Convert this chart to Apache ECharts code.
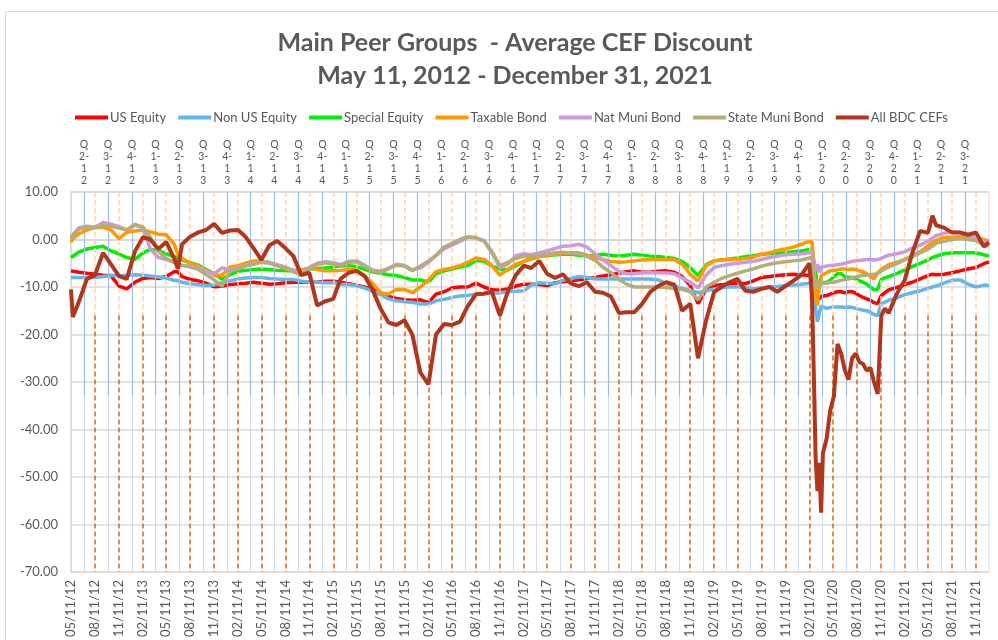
<!DOCTYPE html>
<html>
<head>
<meta charset="utf-8">
<script src="https://cdn.jsdelivr.net/npm/echarts/dist/echarts.min.js"></script>
<style>
  html, body { margin: 0; padding: 0; background: #fff; }
  #main { width: 998px; height: 640px; }
</style>
</head>
<body>
<div id="main"></div>
<script>
// dates of the sampled points (monthly, denser around the 2020 crash)
var dates = [
  '2012-05-11','2012-05-18','2012-06-11','2012-07-11','2012-08-11','2012-09-11','2012-10-11','2012-11-11','2012-12-11',
  '2013-01-11','2013-02-11','2013-03-11','2013-04-11','2013-05-11','2013-06-11','2013-06-25','2013-07-11','2013-08-11','2013-09-11','2013-10-11','2013-11-11','2013-12-11',
  '2014-01-11','2014-02-11','2014-03-11','2014-04-11','2014-05-11','2014-06-11','2014-07-11','2014-08-11','2014-09-11','2014-10-11','2014-11-11','2014-12-11',
  '2015-01-11','2015-02-11','2015-03-11','2015-04-11','2015-05-11','2015-06-11','2015-07-11','2015-08-11','2015-09-11','2015-10-11','2015-11-11','2015-12-11',
  '2016-01-11','2016-02-11','2016-03-11','2016-04-11','2016-05-11','2016-06-11','2016-07-11','2016-08-11','2016-09-11','2016-10-11','2016-11-11','2016-12-11',
  '2017-01-11','2017-02-11','2017-03-11','2017-04-11','2017-05-11','2017-06-11','2017-07-11','2017-08-11','2017-09-11','2017-10-11','2017-11-11','2017-12-11',
  '2018-01-11','2018-02-11','2018-03-11','2018-04-11','2018-05-11','2018-06-11','2018-07-11','2018-08-11','2018-09-11','2018-10-11','2018-11-11','2018-12-11',
  '2019-01-11','2019-02-11','2019-03-11','2019-04-11','2019-05-11','2019-06-11','2019-07-11','2019-08-11','2019-09-11','2019-10-11','2019-11-11','2019-12-11',
  '2020-01-11','2020-02-11','2020-02-21','2020-02-28','2020-03-06','2020-03-13','2020-03-20','2020-03-27','2020-04-03','2020-04-17','2020-05-01','2020-05-15','2020-05-29',
  '2020-06-12','2020-06-26','2020-07-10','2020-07-24','2020-08-07','2020-08-21','2020-09-04','2020-09-18','2020-10-02','2020-10-16','2020-10-30','2020-11-13','2020-11-27','2020-12-11',
  '2021-01-11','2021-02-11','2021-03-11','2021-04-11','2021-05-11','2021-05-28','2021-06-11','2021-07-11','2021-08-11','2021-09-11','2021-10-11','2021-11-11','2021-12-11','2021-12-31'
];

var usEquity = [
  -6.6, -6.7, -6.9, -7.1, -7.3, -7.5, -7.6, -9.8, -10.4,
  -9.0, -8.2, -8.0, -8.2, -7.8, -6.8, -6.8, -7.8, -8.4, -8.7, -9.2, -10.0, -9.8,
  -9.5, -9.3, -9.2, -9.0, -9.2, -9.4, -9.3, -9.1, -9.0, -9.0, -9.0, -9.0,
  -8.8, -8.8, -9.0, -9.3, -9.6, -10.0, -10.4, -11.2, -12.0, -12.4, -12.7, -12.8,
  -12.7, -13.3, -11.5, -11.0, -10.2, -10.0, -10.0, -9.2, -10.0, -10.6, -10.7, -10.4,
  -9.8, -9.4, -9.4, -9.5, -9.7, -9.1, -8.9, -8.7, -8.5, -8.2, -8.0, -7.7,
  -7.4, -7.1, -6.8, -6.6, -6.9, -6.9, -6.7, -6.6, -6.9, -7.8, -9.7, -13.5,
  -10.5, -9.7, -9.5, -9.4, -9.2, -9.3, -8.7, -8.0, -7.8, -7.6, -7.4, -7.3,
  -7.4, -7.6, -7.8, -9.7, -11.0, -12.0, -12.5, -12.0, -11.8, -11.8, -11.5, -11.2, -11.0,
  -11.0, -11.2, -11.0, -11.0, -11.3, -11.8, -12.2, -12.5, -12.8, -13.3, -13.5, -11.8, -11.2, -10.6,
  -10.1, -9.5, -9.0, -8.3, -7.6, -7.3, -7.4, -7.3, -7.0, -6.6, -6.2, -5.9, -5.1, -4.7
];

var nonUsEquity = [
  -8.0, -8.0, -8.0, -8.0, -8.0, -7.8, -7.6, -7.6, -7.6,
  -7.4, -7.5, -7.7, -7.9, -8.1, -8.6, -8.7, -9.0, -9.3, -9.5, -9.7, -9.6, -9.1,
  -8.7, -8.3, -8.1, -8.0, -8.0, -8.2, -8.3, -8.4, -8.4, -8.8, -9.0, -9.0,
  -9.1, -9.1, -9.4, -9.5, -9.7, -10.2, -10.9, -11.6, -12.5, -12.9, -13.1, -13.2,
  -13.6, -13.6, -12.9, -12.6, -12.2, -11.9, -11.8, -11.5, -11.4, -11.3, -11.2, -11.0,
  -10.9, -10.8, -9.6, -9.1, -9.2, -9.3, -8.6, -8.2, -7.8, -8.0, -8.3, -8.3,
  -8.3, -8.3, -8.3, -8.3, -8.3, -8.3, -8.5, -9.3, -9.8, -10.3, -10.7, -11.2,
  -10.8, -10.4, -10.1, -10.0, -10.0, -10.2, -10.4, -10.2, -10.0, -9.9, -9.7, -9.6,
  -9.4, -9.2, -9.2, -12.0, -14.5, -17.3, -15.5, -14.0, -14.2, -14.5, -14.3, -14.2, -14.2,
  -14.2, -14.3, -14.2, -14.3, -14.5, -14.7, -14.9, -15.0, -15.3, -15.8, -16.0, -13.5, -13.2, -12.8,
  -12.3, -11.6, -11.2, -10.8, -10.3, -10.0, -9.8, -9.2, -8.6, -8.5, -9.4, -10.0, -9.6, -9.7
];

var specialEquity = [
  -3.8, -3.5, -2.6, -2.0, -1.7, -1.4, -2.4, -3.0, -3.8,
  -4.2, -2.8, -2.1, -2.3, -3.0, -3.6, -3.9, -4.3, -4.9, -5.4, -6.3, -7.2, -8.3,
  -7.4, -6.7, -6.5, -6.3, -6.2, -6.3, -6.5, -6.6, -6.6, -6.4, -6.2, -6.1,
  -6.0, -5.8, -5.6, -5.5, -5.7, -6.3, -6.8, -7.1, -7.4, -7.6, -8.0, -8.5,
  -8.5, -9.0, -7.2, -6.6, -6.2, -5.8, -5.5, -4.4, -4.6, -5.6, -6.2, -6.4,
  -5.5, -4.6, -4.1, -3.6, -3.4, -3.2, -3.1, -3.1, -3.3, -3.5, -3.3, -3.1,
  -3.3, -3.5, -3.3, -3.1, -3.3, -3.5, -3.6, -3.8, -4.0, -4.6, -5.9, -7.6,
  -5.3, -4.5, -4.3, -4.1, -3.9, -3.6, -3.4, -3.1, -3.0, -2.9, -2.8, -2.6,
  -2.4, -2.1, -2.0, -4.5, -7.0, -9.7, -9.3, -9.2, -9.3, -9.0, -8.6, -7.8, -7.2,
  -7.2, -7.8, -8.0, -8.0, -8.3, -8.7, -9.0, -9.4, -10.0, -10.6, -10.5, -8.4, -8.1, -7.8,
  -7.2, -6.4, -5.7, -5.0, -4.3, -3.8, -3.5, -3.0, -2.8, -2.8, -2.8, -2.8, -3.2, -3.5
];

var taxableBond = [
  -0.6, 0.2, 1.2, 2.0, 2.5, 2.6, 2.0, 0.2, 1.5,
  1.8, 2.0, 1.6, 1.1, 1.0, -1.0, -3.2, -4.0, -5.0, -5.6, -6.5, -7.5, -7.5,
  -5.8, -5.5, -5.0, -4.5, -4.6, -4.8, -5.5, -6.1, -6.5, -6.4, -6.0, -6.3,
  -6.6, -6.6, -6.5, -6.3, -6.4, -7.6, -9.2, -11.2, -11.5, -10.5, -10.5, -11.2,
  -10.0, -8.5, -6.8, -6.3, -6.0, -5.5, -4.8, -3.9, -4.2, -5.5, -7.5, -6.3,
  -5.2, -4.6, -4.0, -3.6, -3.3, -3.1, -2.9, -2.8, -2.8, -3.3, -3.8, -4.2,
  -4.6, -4.8, -4.7, -4.5, -4.3, -4.2, -4.2, -4.2, -4.2, -5.2, -7.3, -8.7,
  -5.5, -4.5, -4.3, -4.2, -4.2, -4.0, -3.7, -3.1, -2.8, -2.3, -2.0, -1.6,
  -1.0, -0.4, -0.5, -5.0, -12.5, -13.9, -10.0, -7.6, -7.4, -7.0, -6.6, -6.5, -6.4,
  -6.2, -6.2, -6.3, -6.2, -6.3, -6.6, -6.8, -7.2, -7.8, -8.3, -7.0, -6.3, -5.8, -5.3,
  -4.8, -4.2, -3.5, -2.6, -1.3, -0.6, -0.2, 0.4, 0.5, 0.6, 0.6, 0.5, 0.0, -0.4
];

var natMuniBond = [
  0.6, 1.0, 2.5, 2.8, 2.6, 3.6, 3.2, 2.7, 2.0,
  3.0, 2.5, -2.0, -3.8, -4.2, -4.8, -5.3, -5.5, -5.6, -6.0, -6.8, -7.2, -6.0,
  -6.3, -6.0, -5.4, -5.0, -4.6, -4.8, -5.3, -5.8, -6.5, -7.2, -5.9, -5.0,
  -4.7, -4.9, -5.3, -4.6, -4.5, -5.4, -6.4, -6.7, -6.0, -5.2, -5.4, -6.4,
  -6.0, -4.8, -3.4, -2.0, -1.2, -0.4, 0.5, 0.3, -0.3, -2.8, -6.0, -5.2,
  -3.4, -3.0, -3.2, -2.8, -2.4, -1.9, -1.4, -1.3, -1.0, -1.6, -3.0, -4.3,
  -5.5, -6.7, -7.2, -7.2, -7.0, -7.0, -7.0, -7.0, -7.2, -8.1, -9.0, -10.2,
  -7.5, -5.9, -5.5, -5.2, -5.0, -4.8, -4.6, -4.2, -3.8, -3.5, -3.2, -3.1,
  -3.0, -2.8, -2.8, -5.0, -6.6, -5.2, -7.0, -5.8, -6.0, -5.6, -5.5, -5.4, -5.3,
  -5.2, -5.0, -4.8, -4.6, -4.5, -4.4, -4.3, -4.2, -4.2, -4.3, -4.2, -4.0, -3.6, -3.3,
  -3.0, -2.6, -1.8, -1.2, -0.3, 0.3, 0.8, 1.3, 1.6, 1.5, 0.8, 0.6, -0.5, -0.6
];

var stateMuniBond = [
  0.2, 0.8, 2.2, 2.6, 2.5, 3.0, 2.8, 2.4, 2.0,
  3.2, 2.6, 0.5, -2.5, -4.0, -4.8, -5.2, -5.4, -5.8, -6.3, -7.4, -8.5, -9.8,
  -6.6, -6.2, -5.6, -5.2, -4.8, -5.0, -5.5, -6.0, -6.8, -7.5, -6.2, -5.2,
  -4.9, -5.1, -5.5, -4.8, -4.7, -5.6, -6.6, -6.9, -6.2, -5.4, -5.6, -6.6,
  -5.6, -4.6, -3.3, -1.6, -0.8, 0.0, 0.6, 0.4, -0.3, -2.5, -5.5, -4.8,
  -4.0, -3.5, -3.5, -3.4, -3.1, -2.8, -2.7, -2.9, -3.0, -3.5, -4.4, -5.8,
  -7.0, -8.4, -9.4, -10.0, -10.0, -10.0, -10.0, -10.1, -10.3, -10.5, -11.0, -12.7,
  -10.0, -9.0, -8.2, -7.6, -7.1, -6.6, -6.2, -5.6, -5.2, -4.9, -4.7, -4.5,
  -4.3, -3.9, -3.8, -7.0, -10.4, -8.5, -9.8, -9.2, -9.4, -9.2, -9.0, -9.0, -8.8,
  -8.6, -8.4, -8.3, -8.1, -7.9, -7.7, -7.6, -7.5, -7.4, -7.3, -7.2, -6.6, -6.2, -5.8,
  -5.1, -4.3, -3.6, -2.8, -2.0, -1.4, -0.8, -0.4, 0.0, 0.2, 0.0, -0.2, -1.2, -1.4
];

var allBdcCefs = [
  -10.5, -16.3, -13.0, -8.3, -7.5, -2.8, -5.2, -7.7, -8.3,
  -2.5, 0.5, 0.0, -2.0, -0.5, -4.0, -6.2, -1.0, 0.6, 1.5, 2.0, 3.3, 1.4,
  1.9, 2.0, 0.6, -1.8, -4.3, -1.2, -0.3, -1.8, -3.5, -7.5, -7.0, -13.9,
  -13.0, -12.5, -8.3, -7.0, -6.6, -7.7, -10.5, -14.5, -17.5, -18.0, -17.0, -20.0,
  -28.0, -30.5, -20.0, -17.8, -18.0, -17.3, -14.0, -11.5, -11.4, -11.0, -16.0, -11.0,
  -7.5, -5.5, -6.0, -4.5, -7.2, -8.1, -7.3, -9.3, -9.8, -9.0, -11.0, -11.2,
  -12.0, -15.5, -15.3, -15.3, -13.5, -11.0, -9.8, -9.0, -9.5, -15.0, -13.5, -25.0,
  -17.0, -11.0, -10.0, -9.0, -8.3, -10.8, -11.0, -10.4, -10.0, -11.0, -9.8, -8.7,
  -7.5, -5.0, -12.0, -28.0, -46.0, -53.0, -47.0, -57.5, -45.0, -42.0, -36.0, -33.0, -22.0,
  -24.0, -27.5, -29.5, -25.0, -24.0, -25.8, -26.2, -27.6, -27.0, -30.0, -32.5, -16.0, -14.5, -15.5,
  -11.5, -8.5, -3.0, 1.8, 1.4, 5.0, 3.0, 2.5, 1.5, 1.5, 1.0, 1.5, -1.5, -0.6
];

var seriesNames = ['US Equity', 'Non US Equity', 'Special Equity', 'Taxable Bond', 'Nat Muni Bond', 'State Muni Bond', 'All BDC CEFs'];
var seriesColors = ['#ff0000', '#63b5ea', '#00ee00', '#ff9900', '#cc99dd', '#b4ad7a', '#b0361d'];
var seriesValues = [usEquity, nonUsEquity, specialEquity, taxableBond, natMuniBond, stateMuniBond, allBdcCefs];

// x axis labels, every 3 months
var xTickLabels = [
  '05/11/12','08/11/12','11/11/12','02/11/13','05/11/13','08/11/13','11/11/13','02/11/14','05/11/14','08/11/14',
  '11/11/14','02/11/15','05/11/15','08/11/15','11/11/15','02/11/16','05/11/16','08/11/16','11/11/16','02/11/17',
  '05/11/17','08/11/17','11/11/17','02/11/18','05/11/18','08/11/18','11/11/18','02/11/19','05/11/19','08/11/19',
  '11/11/19','02/11/20','05/11/20','08/11/20','11/11/20','02/11/21','05/11/21','08/11/21','11/11/21'
];

// quarter markers above the plot
var quarterLabels = [
  'Q2-12','Q3-12','Q4-12','Q1-13','Q2-13','Q3-13','Q4-13','Q1-14','Q2-14','Q3-14','Q4-14',
  'Q1-15','Q2-15','Q3-15','Q4-15','Q1-16','Q2-16','Q3-16','Q4-16','Q1-17','Q2-17','Q3-17','Q4-17',
  'Q1-18','Q2-18','Q3-18','Q4-18','Q1-19','Q2-19','Q3-19','Q4-19','Q1-20','Q2-20','Q3-20','Q4-20',
  'Q1-21','Q2-21','Q3-21'
];

var yTicks = { min: -70, max: 10, interval: 10 };

function isoTs(s) {
  var p = s.split('-');
  return new Date(+p[0], +p[1] - 1, +p[2]).getTime();
}
function usTs(s) {
  var p = s.split('/');
  return new Date(2000 + +p[2], +p[0] - 1, +p[1]).getTime();
}
function quarterEndTs(q) {
  var n = +q.charAt(1), yy = +q.slice(3);
  return new Date(2000 + yy, n * 3, 0).getTime();
}
function pad(n) { return n < 10 ? '0' + n : '' + n; }

var labelTs = xTickLabels.map(usTs);
var labelText = {};
labelTs.forEach(function (t, i) { labelText[t] = xTickLabels[i]; });

var vLines = [];
quarterLabels.forEach(function (q) {
  var t = quarterEndTs(q);
  vLines.push([
    { coord: [t, -33], lineStyle: { color: '#cfdcf0', width: 1, type: 'solid' }, label: { show: false } },
    { coord: [t, -70] }
  ]);
  vLines.push([
    { coord: [t, -33], lineStyle: { color: '#9dbde6', width: 1.2, type: 'solid' },
      label: { show: true, position: 'end', distance: 5, formatter: q.charAt(0) + '\n' + q.charAt(1) + '-\n' + q.charAt(3) + '\n' + q.charAt(4),
               color: '#595959', fontSize: 10.5, lineHeight: 12, fontFamily: 'Lato' } },
    { coord: [t, 10] }
  ]);
});
labelTs.slice(1).forEach(function (t) {
  vLines.push([
    { coord: [t, 10], lineStyle: { color: '#fbd3b2', width: 1.5, type: [5, 3] }, label: { show: false } },
    { coord: [t, -16] }
  ]);
  vLines.push([
    { coord: [t, -16], lineStyle: { color: '#d0651c', width: 1.5, type: [5, 3] }, label: { show: false } },
    { coord: [t, -70] }
  ]);
});

var chart = echarts.init(document.getElementById('main'));

var series = [{
  name: 'grid lines',
  type: 'line',
  data: [],
  z: 1,
  silent: true,
  markLine: { symbol: 'none', silent: true, animation: false, data: vLines }
}];
seriesNames.forEach(function (name, k) {
  series.push({
    name: name,
    type: 'line',
    showSymbol: false,
    z: 2 + k,
    data: dates.map(function (d, i) { return [isoTs(d), seriesValues[k][i]]; }),
    lineStyle: { color: seriesColors[k], width: k === 6 ? 4 : 3.5 },
    itemStyle: { color: seriesColors[k] }
  });
});

var option = {
  backgroundColor: '#ffffff',
  animation: false,
  color: seriesColors,
  title: {
    text: 'Main Peer Groups  - Average CEF Discount\nMay 11, 2012 - December 31, 2021',
    left: 510,
    textAlign: 'center',
    top: 21,
    textStyle: { fontFamily: 'Lato', fontWeight: 'bold', fontSize: 25, lineHeight: 33, color: '#595959' }
  },
  legend: {
    data: seriesNames,
    left: 70,
    top: 106,
    icon: 'rect',
    itemWidth: 33,
    itemHeight: 4,
    itemGap: 12,
    textStyle: { fontFamily: 'Lato', fontSize: 13, color: '#595959', padding: [0, 0, 0, -3] }
  },
  grid: { left: 71, right: 9, top: 192, bottom: 63, show: true, borderColor: '#d9d9d9', borderWidth: 1 },
  xAxis: {
    type: 'value',
    min: isoTs('2012-05-11'),
    max: isoTs('2021-12-31'),
    splitLine: { show: false },
    axisLine: { lineStyle: { color: '#d9d9d9', width: 2 } },
    axisTick: { show: false },
    axisLabel: {
      customValues: labelTs,
      rotate: 90,
      margin: 8,
      color: '#595959',
      fontSize: 13,
      fontFamily: 'Lato',
      formatter: function (v) {
        if (labelText[v]) return labelText[v];
        var d = new Date(v);
        return pad(d.getMonth() + 1) + '/' + pad(d.getDate()) + '/' + String(d.getFullYear()).slice(2);
      }
    }
  },
  yAxis: {
    type: 'value',
    min: yTicks.min,
    max: yTicks.max,
    interval: yTicks.interval,
    axisLine: { show: true, lineStyle: { color: '#d9d9d9', width: 1.5 } },
    axisTick: { show: false },
    splitLine: { lineStyle: { color: '#d9d9d9', width: 1.5 } },
    axisLabel: {
      margin: 13,
      color: '#595959',
      fontSize: 13,
      fontFamily: 'Lato',
      formatter: function (v) { return v.toFixed(2); }
    }
  },
  graphic: [{
    type: 'rect',
    silent: true,
    z: -10,
    shape: { x: 5.5, y: 11.5, width: 1000, height: 700 },
    style: { fill: 'none', stroke: '#d9d9d9', lineWidth: 1 }
  }],
  series: series
};

chart.setOption(option);
</script>
</body>
</html>
